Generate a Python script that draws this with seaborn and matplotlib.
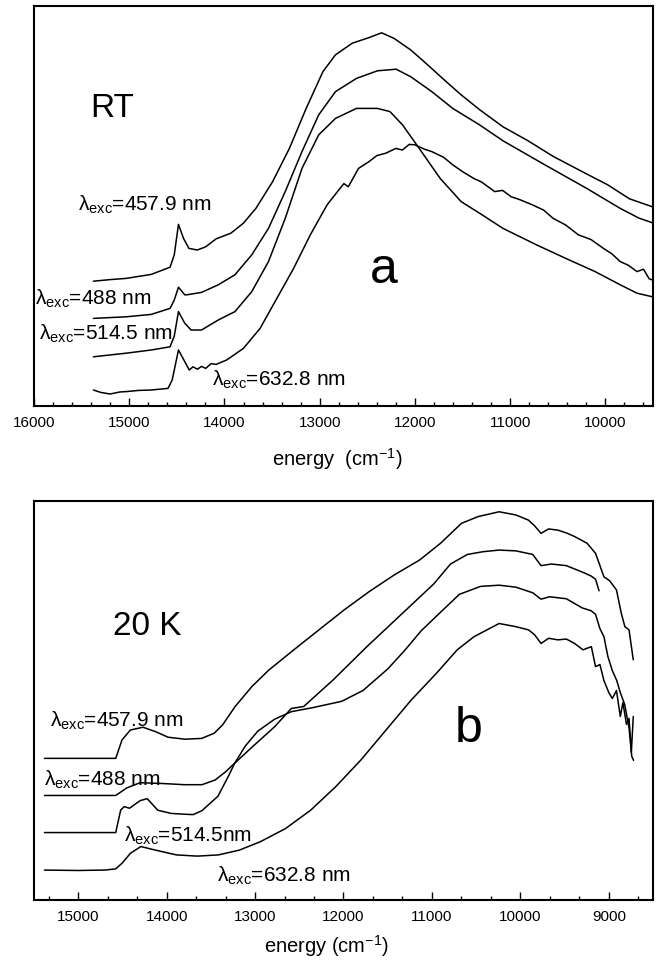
import matplotlib
matplotlib.use("Agg")
import matplotlib.pyplot as plt
from matplotlib.ticker import MultipleLocator, AutoMinorLocator
import seaborn as sns

# ---------------- panel a : room temperature spectra ----------------
a_labels = ["457.9 nm", "488 nm", "514.5 nm", "632.8 nm"]

a_e_4579 = [15376, 15200, 15033, 14769, 14571, 14527, 14483, 14430, 14373, 14285,
            14197, 14087, 13933, 13801, 13670, 13494, 13318, 13142, 12966, 12834,
            12658, 12482, 12350, 12219, 12043, 11867, 11691, 11515, 11322, 11075,
            10812, 10548, 10196, 9976, 9747, 9506]
a_i_4579 = [31.2, 31.6, 31.9, 32.9, 34.7, 37.8, 45.4, 41.9, 39.4, 39.0,
            39.8, 41.8, 43.2, 45.7, 49.4, 56.1, 64.4, 74.4, 83.6, 87.8,
            90.7, 92.1, 93.3, 91.9, 89.0, 85.3, 81.5, 77.8, 74.1, 69.8,
            66.3, 62.4, 58.0, 55.3, 51.8, 49.8]

a_e_488 = [15376, 15033, 14769, 14571, 14527, 14483, 14417, 14395, 14241, 14065,
           13890, 13713, 13538, 13362, 13186, 13010, 12834, 12614, 12394, 12197,
           12043, 11823, 11603, 11322, 11075, 10636, 10196, 9844, 9650, 9506]
a_i_488 = [21.9, 22.3, 22.9, 24.4, 26.5, 29.7, 27.8, 27.8, 28.4, 30.3,
           32.8, 37.8, 44.4, 53.6, 63.6, 72.8, 78.6, 81.9, 83.8, 84.2,
           82.3, 78.6, 74.4, 70.3, 66.3, 60.3, 54.4, 49.4, 47.0, 45.8]

a_e_5145 = [15376, 15033, 14769, 14571, 14527, 14483, 14417, 14351, 14241, 14065,
            13890, 13713, 13538, 13362, 13186, 13010, 12834, 12614, 12394, 12262,
            12131, 11955, 11735, 11515, 11295, 11075, 10724, 10416, 10108, 9844,
            9668, 9506]
a_i_5145 = [12.3, 13.2, 14.0, 14.8, 17.5, 23.6, 20.7, 19.0, 19.0, 21.5,
            23.6, 28.6, 36.1, 46.9, 59.4, 67.8, 71.9, 74.4, 74.4, 73.6,
            70.3, 64.4, 56.9, 51.1, 47.8, 44.4, 40.3, 36.9, 33.6, 30.3,
            28.2, 27.3]

a_e_6328 = [15376, 15300, 15200, 15100, 15033, 14900, 14769, 14593, 14549, 14483,
            14417, 14370, 14330, 14285, 14240, 14197, 14140, 14087, 13977, 13801,
            13626, 13450, 13274, 13098, 12922, 12800, 12746, 12700, 12592, 12482,
            12400, 12306, 12200, 12131, 12060, 12000, 11900, 11823, 11700, 11603,
            11500, 11383, 11300, 11163, 11080, 10988, 10900, 10768, 10650, 10548,
            10420, 10284, 10150, 10020, 9930, 9844, 9760, 9668, 9600, 9540, 9506]
a_i_6328 = [4.0, 3.4, 3.0, 3.5, 3.6, 3.9, 4.0, 4.4, 6.5, 14.0,
            11.1, 9.0, 9.8, 9.2, 9.9, 9.4, 10.6, 10.4, 11.5, 14.4,
            19.4, 26.9, 34.4, 42.8, 50.3, 54.0, 55.6, 54.8, 59.4, 61.1,
            62.6, 63.2, 64.4, 64.0, 65.4, 65.3, 64.2, 63.6, 62.2, 60.3,
            58.6, 56.9, 56.0, 53.6, 53.9, 52.3, 51.6, 50.3, 49.0, 46.9,
            45.3, 42.8, 41.6, 39.4, 38.0, 36.1, 35.2, 33.6, 34.2, 31.8, 31.5]

# ---------------- panel b : 20 K spectra ----------------
b_labels = ["457.9 nm", "488 nm", "514.5nm", "632.8 nm"]

b_e_4579 = [15382, 14576, 14505, 14410, 14268, 14126, 13984, 13794, 13604, 13462,
            13367, 13225, 13036, 12846, 12562, 12278, 11993, 11709, 11424, 11140,
            10903, 10666, 10477, 10240, 10050, 9908, 9840, 9766, 9680, 9576,
            9480, 9387, 9245, 9150, 9055, 8990, 8913, 8860, 8818, 8771, 8723]
b_i_4579 = [35.5, 35.5, 40.1, 42.6, 43.3, 42.2, 40.8, 40.3, 40.5, 41.8,
            43.9, 48.5, 53.5, 57.6, 62.7, 67.7, 72.7, 77.3, 81.5, 85.2,
            89.4, 94.4, 96.1, 97.3, 96.5, 95.2, 93.8, 91.9, 93.0, 92.7,
            92.0, 91.1, 89.4, 86.9, 81.0, 80.0, 77.7, 72.0, 68.5, 67.7, 60.2]

b_e_488 = [15382, 14576, 14450, 14300, 14050, 13800, 13600, 13450, 13330, 13230,
           13020, 12780, 12590, 12450, 12120, 11740, 11360, 10980, 10790, 10600,
           10420, 10240, 10050, 9860, 9766, 9650, 9480, 9290, 9200, 9150, 9110]
b_i_488 = [26.2, 26.2, 28.1, 29.4, 29.2, 28.9, 28.9, 30.1, 32.2, 34.3,
           38.6, 43.4, 48.0, 48.5, 55.1, 63.4, 71.3, 79.2, 84.2, 86.6,
           87.3, 87.7, 87.5, 86.6, 83.8, 84.2, 83.8, 82.1, 81.2, 80.4, 77.5]

b_e_5145 = [15382, 14576, 14520, 14480, 14420, 14300, 14220, 14100, 13950, 13800,
            13700, 13600, 13420, 13300, 13230, 13110, 12970, 12780, 12590, 12350,
            12020, 11780, 11500, 11310, 11120, 10880, 10690, 10450, 10240, 10050,
            9860, 9766, 9670, 9480, 9300, 9200, 9150, 9100, 9055, 9010, 8960,
            8910, 8870, 8820, 8770, 8740, 8720]
b_i_5145 = [16.9, 16.9, 22.5, 23.4, 23.0, 24.9, 25.4, 22.5, 21.7, 21.5,
            21.4, 22.4, 26.0, 31.1, 34.3, 38.6, 42.3, 45.3, 47.2, 48.2,
            49.8, 52.5, 57.9, 62.5, 67.5, 72.6, 76.6, 78.6, 78.9, 78.4,
            77.0, 75.4, 76.0, 75.5, 73.2, 72.5, 71.6, 68.0, 66.0, 61.0, 57.5,
            55.0, 52.0, 49.0, 43.0, 36.0, 35.0]

b_e_6328 = [15382, 15000, 14700, 14576, 14505, 14410, 14292, 14126, 13889, 13652,
            13415, 13178, 12941, 12656, 12372, 12088, 11803, 11519, 11235, 10950,
            10714, 10524, 10240, 10050, 9908, 9840, 9766, 9680, 9576, 9480, 9387,
            9292, 9197, 9150, 9100, 9055, 9000, 8960, 8913, 8870, 8840, 8800,
            8771, 8745, 8723]
b_i_6328 = [7.5, 7.4, 7.5, 7.8, 9.2, 11.7, 13.4, 12.5, 11.3, 11.0,
            11.3, 12.5, 14.6, 17.9, 22.5, 28.4, 35.1, 42.6, 50.1, 56.8,
            62.7, 66.0, 69.3, 68.5, 67.7, 66.5, 64.3, 65.6, 65.2, 65.4, 64.3,
            62.7, 63.5, 58.5, 59.0, 55.0, 52.0, 50.5, 52.5, 46.0, 49.5, 44.0,
            45.5, 37.0, 46.0]

# ---------------- style ----------------
sns.set_theme(style="white")
plt.rcParams["font.family"] = ["Liberation Sans", "DejaVu Sans"]
plt.rcParams["mathtext.fontset"] = "custom"
plt.rcParams["mathtext.rm"] = "Liberation Sans"
plt.rcParams["mathtext.it"] = "Liberation Sans:italic"
plt.rcParams["mathtext.bf"] = "Liberation Sans:bold"
plt.rcParams["text.color"] = "black"
plt.rcParams["axes.labelcolor"] = "black"
plt.rcParams["xtick.color"] = "black"

W, H = 659, 969
fig = plt.figure(figsize=(W / 100, H / 100), dpi=100)
fig.patch.set_facecolor("white")


def px_axes(left, top, right, bottom):
    return fig.add_axes([left / W, 1 - bottom / H, (right - left) / W, (bottom - top) / H])


ax_a = px_axes(34, 6, 653, 406)
ax_b = px_axes(34, 501, 653, 900)

line_kw = dict(color="black", lw=1.1, sort=False, estimator=None)

for e, i in [(a_e_4579, a_i_4579), (a_e_488, a_i_488), (a_e_5145, a_i_5145), (a_e_6328, a_i_6328)]:
    sns.lineplot(x=e, y=i, ax=ax_a, **line_kw)
for e, i in [(b_e_4579, b_i_4579), (b_e_488, b_i_488), (b_e_5145, b_i_5145), (b_e_6328, b_i_6328)]:
    sns.lineplot(x=e, y=i, ax=ax_b, **line_kw)

ax_a.set_xlim(16000, 9500)
ax_b.set_xlim(15500, 8500)
ax_a.xaxis.set_minor_locator(AutoMinorLocator(5))
ax_b.xaxis.set_minor_locator(AutoMinorLocator(3))

for ax in (ax_a, ax_b):
    ax.set_ylim(0, 100)
    ax.set_yticks([])
    ax.set_ylabel("")
    ax.xaxis.set_major_locator(MultipleLocator(1000))
    ax.tick_params(axis="x", which="both", direction="in", bottom=True, top=False,
                   color="black", labelsize=11, pad=7, labelcolor="black")
    ax.tick_params(axis="x", which="major", length=5.5, width=1.0)
    ax.tick_params(axis="x", which="minor", length=3, width=1.0)
    for s in ax.spines.values():
        s.set_visible(True)
        s.set_color("black")
        s.set_linewidth(1.5)
    ax.set_facecolor("white")

ax_a.set_xlabel(r"energy  (cm$^{\mathregular{-1}}$)", fontsize=14.5, va="baseline")
ax_a.xaxis.set_label_coords(0.4895, -0.15)
ax_b.set_xlabel(r"energy (cm$^{\mathregular{-1}}$)", fontsize=14.5, va="baseline")
ax_b.xaxis.set_label_coords(0.472, -0.133)

lam = r"λ$_{\mathregular{exc}}$="
txt_kw = dict(fontsize=15, ha="left", va="baseline", color="black")

ax_a.text(0.091, 0.7225, "RT", transform=ax_a.transAxes, fontsize=24, ha="left", va="baseline")
ax_a.text(0.542, 0.3075, "a", transform=ax_a.transAxes, fontsize=36, ha="left", va="baseline")
ax_a.text(0.071, 0.4875, lam + a_labels[0], transform=ax_a.transAxes, **txt_kw)
ax_a.text(0.002, 0.2525, lam + a_labels[1], transform=ax_a.transAxes, **txt_kw)
ax_a.text(0.008, 0.165, lam + a_labels[2], transform=ax_a.transAxes, **txt_kw)
ax_a.text(0.2876, 0.05, lam + a_labels[3], transform=ax_a.transAxes, **txt_kw)

ax_b.text(0.1276, 0.664, "20 K", transform=ax_b.transAxes, fontsize=24, ha="left", va="baseline")
ax_b.text(0.68, 0.397, "b", transform=ax_b.transAxes, fontsize=36, ha="left", va="baseline")
ax_b.text(0.0258, 0.434, lam + b_labels[0], transform=ax_b.transAxes, **txt_kw)
ax_b.text(0.016, 0.2857, lam + b_labels[1], transform=ax_b.transAxes, **txt_kw)
ax_b.text(0.1454, 0.146, lam + b_labels[2], transform=ax_b.transAxes, **txt_kw)
ax_b.text(0.295, 0.0459, lam + b_labels[3], transform=ax_b.transAxes, **txt_kw)

fig.savefig("out.png", dpi=100, facecolor="white")
